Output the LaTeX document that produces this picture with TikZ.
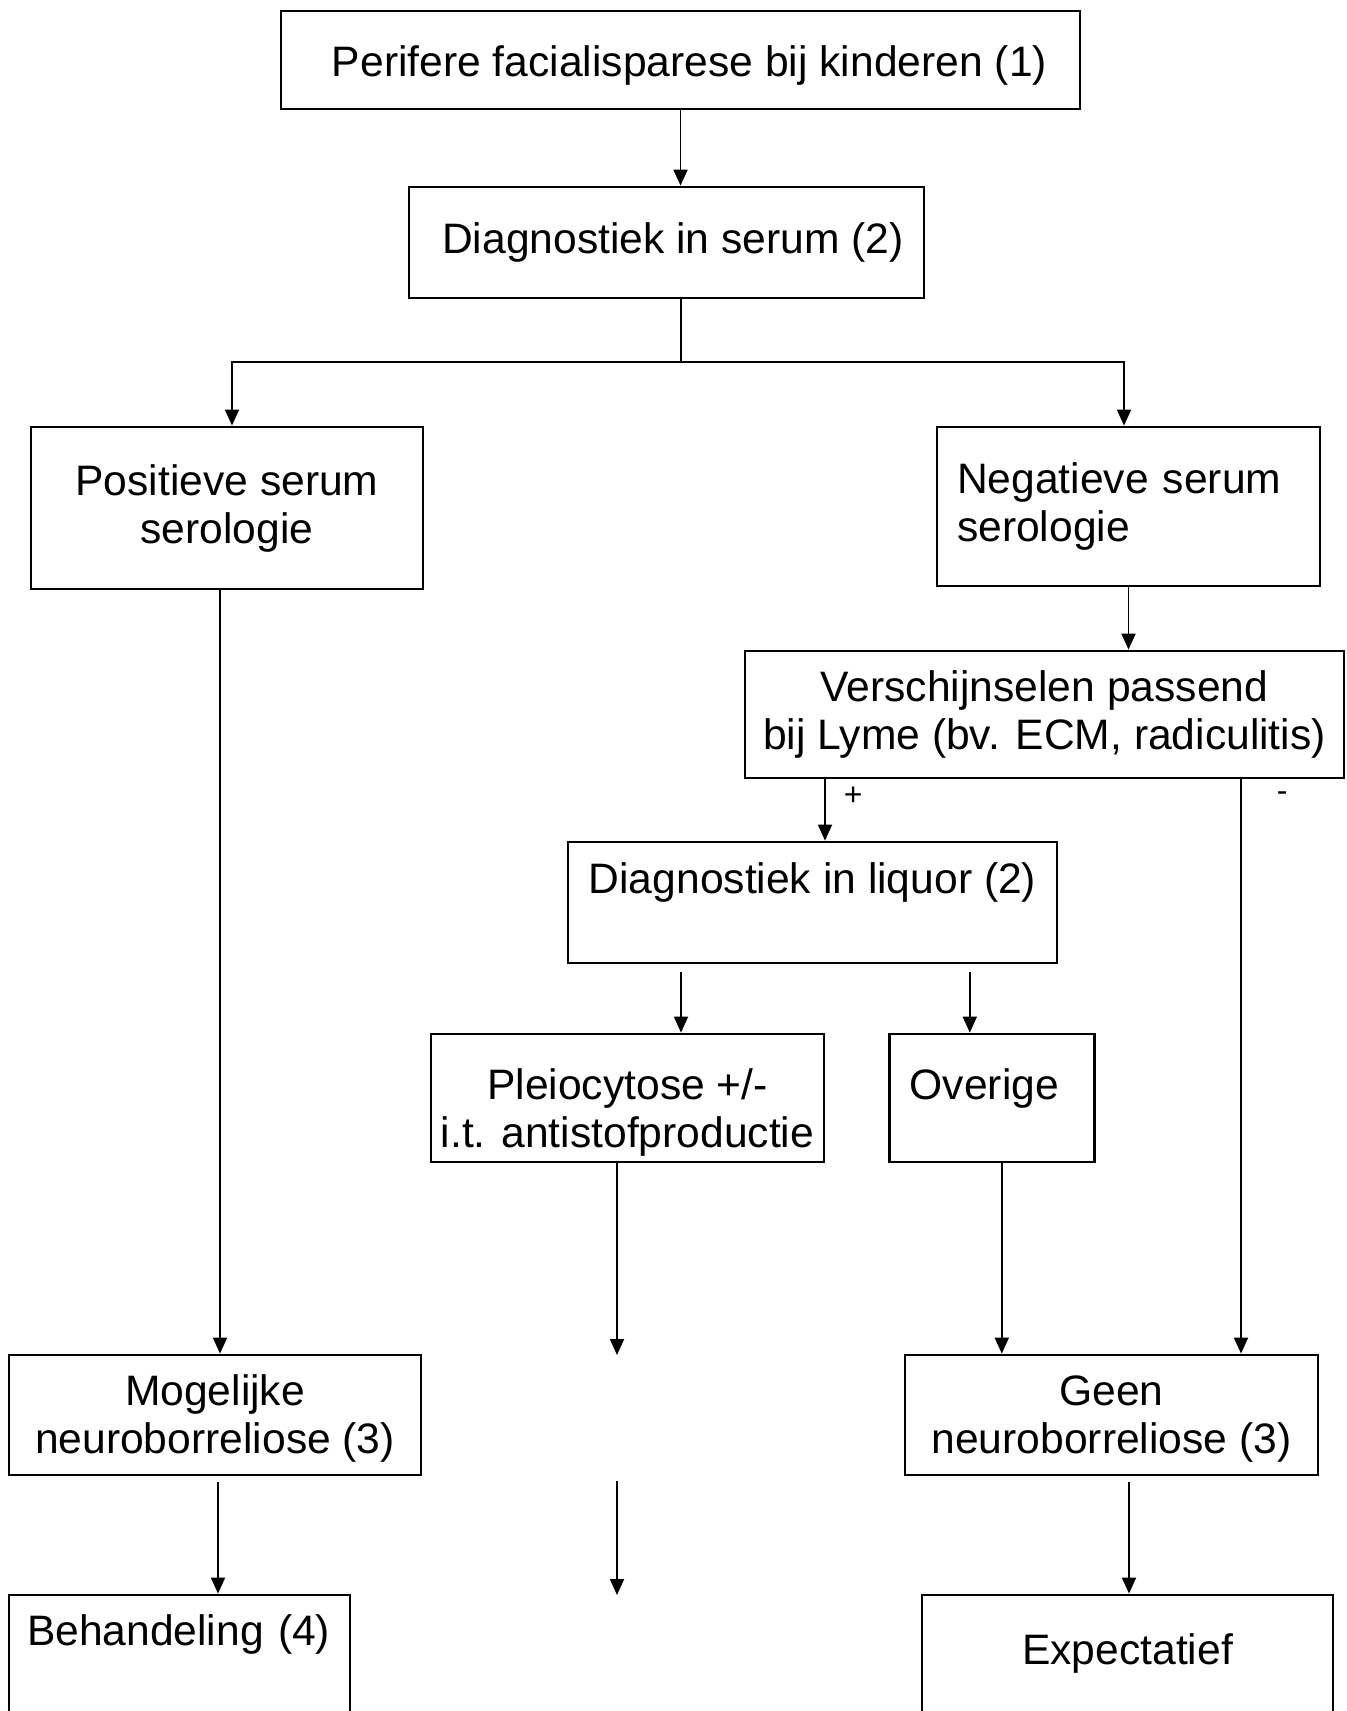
\documentclass[tikz,border=0pt]{standalone}
\usepackage{fontspec}
\setmainfont{Liberation Sans}
\usetikzlibrary{arrows.meta,positioning}

\begin{document}
\begin{tikzpicture}[x=0.5pt, y=-0.5pt,
  box/.style={draw, line width=1.4pt, inner sep=2pt, align=center, font=\fontsize{21.3}{24}\selectfont},
  arrow/.style={line width=0.9pt, -{Triangle[length=8pt, width=7pt]}},
  sign/.style={inner sep=0pt, font=\fontsize{16}{19}\selectfont}]
  \useasboundingbox (0,0) rectangle (1346,1711);
  \clip (0,0) rectangle (1346,1711);

  \node[box, minimum width=399.5pt, minimum height=49pt] (peri) at (680.5,60) {\hspace*{9pt}\rule{0pt}{21pt}Perifere facialisparese bij kinderen (1)};
  \node[box, minimum width=257.5pt, minimum height=55.5pt] (serum) at (666.5,242.5) {\hspace*{6.5pt}Diagnostiek in serum (2)};
  \node[box, minimum width=196pt, minimum height=81pt] (pos) at (227,508) {Positieve serum\\serologie};
  \node[box, align=left, text width=171.5pt, inner xsep=10pt, minimum height=79.5pt] (neg) at (1128.5,506.5) {Negatieve serum\\serologie};
  \node[box, minimum width=299.5pt, minimum height=63.5pt] (lyme) at (1044.5,714.5) {Verschijnselen passend\\bij Lyme (bv. ECM, radiculitis)};
  \node[box, minimum width=244.5pt, minimum height=60.5pt] (liq) at (812.5,902.5) {Diagnostiek in liquor (2)\\ \mbox{}};
  \node[box, minimum width=196.5pt, minimum height=64pt] (pleio) at (627.5,1098) {\rule{0pt}{30pt}Pleiocytose +/-\\i.t. antistofproductie};
  \node[box, align=left, text width=82.5pt, inner xsep=10pt, minimum height=64pt, right=31.5pt of pleio] (over) {Overige\rule[-14pt]{0pt}{14pt}};
  \node[box, minimum width=206pt, minimum height=60pt] (mog) at (215,1415) {\rule{0pt}{19pt}Mogelijke\\neuroborreliose (3)};
  \node[box, minimum width=206.5pt, minimum height=60pt] (geen) at (1111.5,1415) {\rule{0pt}{19pt}Geen\\neuroborreliose (3)};
  \node[box, align=left, text width=152.5pt, inner xsep=9pt, minimum height=83pt] (beh) at (179.5,1678) {Behandeling (4)\\ \mbox{}\\ \mbox{}};
  \node[box, minimum width=205.5pt, minimum height=102pt] (exp) at (1127.5,1697) {Expectatief\\ \mbox{}\\ \mbox{}};

  \coordinate (split) at (681,362);
  \coordinate (pleioend) at (617,1355);
  \coordinate (midtop) at (617,1481);
  \coordinate (midend) at (617,1595);

  \draw[arrow] (peri.south) -- (peri.south |- serum.north);
  \draw[arrow] (serum.south -| split) -- (split) -| ([xshift=2.5pt]pos.north);
  \draw[arrow] (split) -| ([xshift=-2.25pt]neg.north);
  \draw[arrow] ([xshift=-3.5pt]pos.south) -- ([xshift=-3.5pt]pos.south |- mog.north);
  \draw[arrow] (neg.south) -- (neg.south |- lyme.north);
  \draw[arrow] ([xshift=6.25pt]liq.north |- lyme.south) -- node[sign, pos=0.27, right=9pt] {+} ([xshift=6.25pt]liq.north);
  \draw[arrow] ([xshift=64.75pt]geen.north |- lyme.south) -- node[sign, pos=0.03, right=17.5pt] {-} ([xshift=64.75pt]geen.north);
  \draw[arrow] ([xshift=26.75pt, yshift=-4pt]pleio.north |- liq.south) -- ([xshift=26.75pt]pleio.north);
  \draw[arrow] ([xshift=-11.25pt, yshift=-4pt]over.north |- liq.south) -- ([xshift=-11.25pt]over.north);
  \draw[arrow] (pleioend |- pleio.south) -- (pleioend);
  \draw[arrow] ([xshift=4.75pt]over.south) -- ([xshift=4.75pt]over.south |- geen.north);
  \draw[arrow] ([xshift=1.5pt, yshift=-3pt]mog.south) -- ([xshift=1.5pt]mog.south |- beh.north);
  \draw[arrow] (midtop) -- (midend);
  \draw[arrow] ([xshift=8.75pt, yshift=-3pt]geen.south) -- ([xshift=8.75pt]geen.south |- exp.north);
\end{tikzpicture}
\end{document}
